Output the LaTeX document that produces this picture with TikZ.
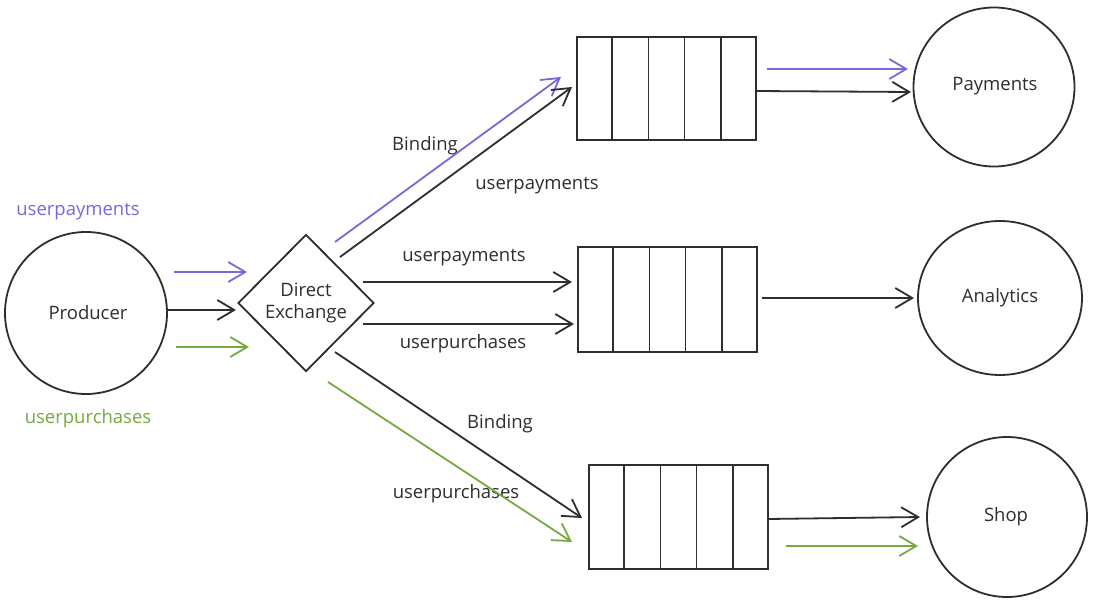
\documentclass[tikz,border=0pt]{standalone}
\usepackage{fontspec}
\setmainfont{Open Sans}
\usetikzlibrary{arrows.meta,shapes.geometric,calc}
\definecolor{ink}{HTML}{2E2E2E}
\definecolor{pur}{RGB}{120,106,214}
\definecolor{grn}{RGB}{116,170,64}
\tikzset{
  lbl/.style={font=\fontsize{18.5}{22}\selectfont, text=ink, inner sep=0pt},
  conn/.style={draw=ink, line width=1.8pt, -{Straight Barb[length=17pt,width=20pt,line width=1.8pt]}},
  pconn/.style={conn, draw=pur},
  gconn/.style={conn, draw=grn},
  qbox/.style={draw=ink, line width=1.8pt, minimum width=179pt, inner sep=0pt, fill=white},
  actor/.style={draw=ink, line width=1.8pt, ellipse, inner sep=0pt},
}
\begin{document}
\begin{tikzpicture}[x=1pt,y=-1pt]
\useasboundingbox[fill=white] (0,0) rectangle (1105,604);

% main shapes
\node[actor, minimum width=162pt, minimum height=162pt] (prod) at (86,313) {};
\node[lbl] (prodt) at (88,313) {Producer};
\node[draw=ink, line width=1.8pt, diamond, aspect=1, minimum width=136pt, minimum height=137pt, inner sep=0pt] (dx) at (306,303) {};
\node[lbl, align=center] (dxt) at (306,303) {Direct\\Exchange};

\node[qbox, minimum height=103pt] (q1) at (666.5,88.5) {};
\node[qbox, minimum height=105pt] (q2) at (667.5,299.5) {};
\node[qbox, minimum height=104pt] (q3) at (678.5,517) {};
\foreach \q in {q1,q2,q3}{
  \foreach \i in {1,2,3,4}{
    \draw[ink, line width=1.8pt] ($(\q.north west)!\i/5!(\q.north east)$) -- ($(\q.south west)!\i/5!(\q.south east)$);
  }
}

\node[actor, minimum width=161pt, minimum height=159pt] (pay) at (994,87) {};
\node[lbl] (payt) at (995,86) {Payments};
\node[actor, minimum width=164pt, minimum height=154pt] (ana) at (1000,298) {};
\node[lbl] (anat) at (1000,298) {Analytics};
\node[actor, minimum width=160pt, minimum height=160pt] (shop) at (1007,517) {};
\node[lbl] (shopt) at (1006,517) {Shop};

% labels
\node[lbl, text=pur] (lp) at (78,212) {userpayments};
\node[lbl, text=grn] (lg) at (88,419) {userpurchases};
\node[lbl] (b1) at (425,146) {Binding};
\node[lbl] (k1) at (537,186) {userpayments};
\node[lbl] (k2) at (464,258) {userpayments};
\node[lbl] (k3) at (463,344) {userpurchases};
\node[lbl] (b2) at (500,424) {Binding};
\node[lbl] (k4) at (456,494) {userpurchases};

% connector end points
\coordinate (a1s) at (174,272); \coordinate (a1e) at (247,272);
\coordinate (a2s) at (168,310); \coordinate (a2e) at (236,310);
\coordinate (a3s) at (176,347); \coordinate (a3e) at (249,347);

\coordinate (b1s) at (335,242); \coordinate (b1e) at (561,77);
\coordinate (b2s) at (340,257); \coordinate (b2e) at (572,87);
\coordinate (c1s) at (363,282); \coordinate (c1e) at (572,282);
\coordinate (c2s) at (363,324); \coordinate (c2e) at (574,324);
\coordinate (d1s) at (335,352); \coordinate (d1e) at (582,518);
\coordinate (d2s) at (328,382); \coordinate (d2e) at (572,542);

\coordinate (e1s) at (767,69);  \coordinate (e1e) at (908,69);
\coordinate (e2s) at (756,91);  \coordinate (e2e) at (911,92);
\coordinate (f1s) at (762,298); \coordinate (f1e) at (914,298);
\coordinate (g1s) at (768,519); \coordinate (g1e) at (920,517);
\coordinate (g2s) at (786,546); \coordinate (g2e) at (918,546);

% connectors
\draw[pconn] (a1s) -- (a1e);
\draw[conn]  (a2s) -- (a2e);
\draw[gconn] (a3s) -- (a3e);

\draw[pconn] (b1s) -- (b1e);
\draw[conn]  (b2s) -- (b2e);
\draw[conn]  (c1s) -- (c1e);
\draw[conn]  (c2s) -- (c2e);
\draw[conn]  (d1s) -- (d1e);
\draw[gconn] (d2s) -- (d2e);

\draw[pconn] (e1s) -- (e1e);
\draw[conn]  (e2s) -- (e2e);
\draw[conn]  (f1s) -- (f1e);
\draw[conn]  (g1s) -- (g1e);
\draw[gconn] (g2s) -- (g2e);
\end{tikzpicture}
\end{document}
